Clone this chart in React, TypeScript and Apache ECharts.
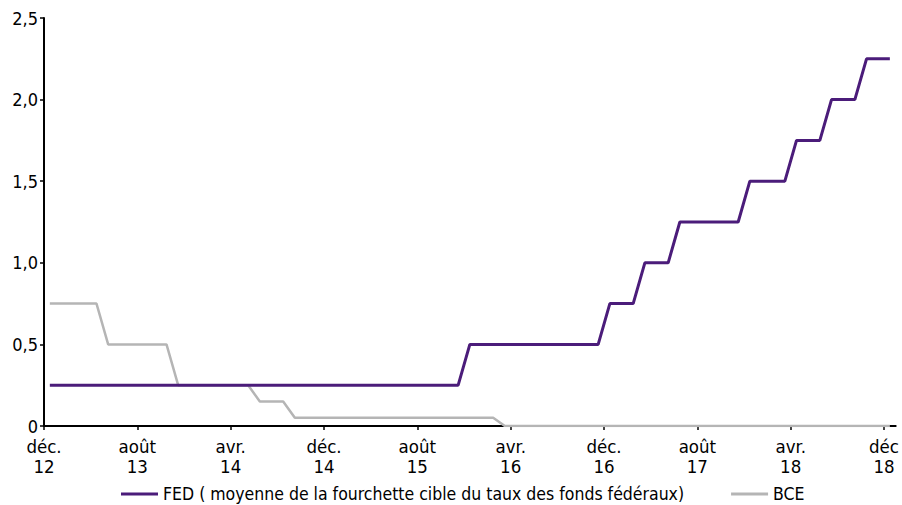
import React, { useEffect, useRef } from "react";
import * as echarts from "echarts";

// Monthly data, index 0 = Dec 2012 ... index 72 = Dec 2018
const fedSteps: [number, number][] = [
  // [from month index, value]
  [0, 0.25],
  [36, 0.5],
  [48, 0.75],
  [51, 1.0],
  [54, 1.25],
  [60, 1.5],
  [64, 1.75],
  [67, 2.0],
  [70, 2.25],
];

const bceSteps: [number, number][] = [
  [0, 0.75],
  [5, 0.5],
  [11, 0.25],
  [18, 0.15],
  [21, 0.05],
  [39, 0],
];

const tickPositions = [0, 8, 16, 24, 32, 40, 48, 56, 64, 72];
const tickLabels = [
  "déc.\n12", "août\n13", "avr.\n14", "déc.\n14", "août\n15",
  "avr.\n16", "déc.\n16", "août\n17", "avr.\n18", "déc\n18",
];

const yTicks = [0, 0.5, 1, 1.5, 2, 2.5];
const yLabels = ["0", "0,5", "1,0", "1,5", "2,0", "2,5"];

const N_MONTHS = 73;

function expand(steps: [number, number][]): number[][] {
  const out: number[][] = [];
  for (let i = 0; i < N_MONTHS; i++) {
    let v = steps[0][1];
    for (const [from, val] of steps) if (i >= from) v = val;
    out.push([i + 0.5, v]);
  }
  return out;
}

const FONT = "'DejaVu Sans Condensed', Roboto, sans-serif";

export default function App() {
  const ref = useRef<HTMLDivElement>(null);
  useEffect(() => {
    if (!ref.current) return;
    const chart = echarts.init(ref.current, undefined, { renderer: "svg" });
    chart.setOption({
      animation: false,
      backgroundColor: "#fff",
      grid: { left: 44, right: 2, top: 18, bottom: 79, containLabel: false },
      legend: {
        left: 116,
        top: 480,
        icon: "rect",
        itemWidth: 37,
        itemHeight: 3,
        itemGap: 47,
        textStyle: { fontFamily: FONT, fontSize: 17.5, color: "#000" },
        data: [
          { name: "FED ( moyenne de la fourchette cible du taux des fonds fédéraux)" },
          { name: "BCE" },
        ],
      },
      xAxis: {
        type: "value",
        min: 0,
        max: 73,
        interval: 8,
        splitLine: { show: false },
        axisLine: { show: true, lineStyle: { color: "#000", width: 2 } },
        axisTick: { show: true, length: 4, lineStyle: { color: "#000", width: 1.5 }, customValues: tickPositions },
        axisLabel: {
          customValues: tickPositions,
          formatter: (v: number) => {
            const idx = tickPositions.indexOf(Math.round(v));
            return idx >= 0 ? tickLabels[idx] : "";
          },
          fontFamily: FONT,
          fontSize: 18.5,
          color: "#000",
          lineHeight: 20,
          margin: 10,
        },
      },
      yAxis: {
        type: "value",
        min: 0,
        max: 2.5,
        interval: 0.5,
        splitLine: { show: false },
        axisLine: { show: true, lineStyle: { color: "#000", width: 2 } },
        axisTick: { show: true, length: 4, lineStyle: { color: "#000", width: 1.5 } },
        axisLabel: {
          formatter: (v: number) => {
            const idx = yTicks.findIndex((t) => Math.abs(t - v) < 1e-9);
            return idx >= 0 ? yLabels[idx] : "";
          },
          fontFamily: FONT,
          fontSize: 18,
          lineHeight: 14,
          color: "#000",
          margin: 6,
        },
      },
      series: [
        {
          name: "FED ( moyenne de la fourchette cible du taux des fonds fédéraux)",
          type: "line",
          data: expand(fedSteps),
          showSymbol: false,
          symbol: "none",
          color: "#4B1C7A",
          lineStyle: { color: "#4B1C7A", width: 3 },
          z: 3,
        },
        {
          name: "BCE",
          type: "line",
          data: expand(bceSteps),
          showSymbol: false,
          symbol: "none",
          color: "#B5B5B5",
          lineStyle: { color: "#B5B5B5", width: 2.5 },
          z: 2,
        },
      ],
    });
    return () => chart.dispose();
  }, []);
  return <div ref={ref} style={{ width: 902, height: 505, position: "absolute", left: 0, top: 0 }} />;
}
